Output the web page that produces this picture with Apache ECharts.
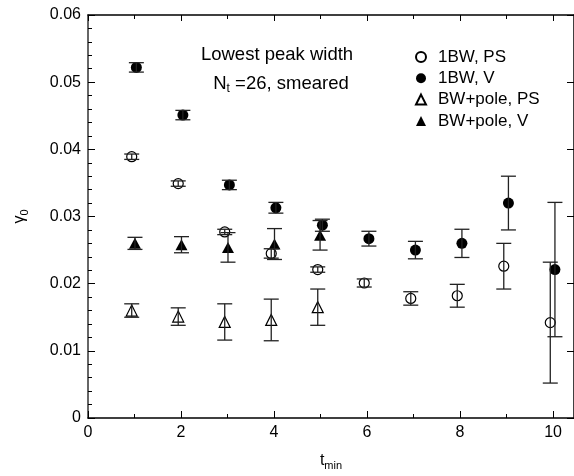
<!DOCTYPE html>
<html>
<head>
<meta charset="utf-8">
<script src="https://cdn.jsdelivr.net/npm/echarts@6/dist/echarts.min.js"></script>
<style>
html,body{margin:0;padding:0;background:#fff;}
#chart{width:574px;height:476px;}
</style>
</head>
<body>
<div id="chart"></div>
<script>
// ---- data ----
const seriesNames = ['1BW, PS', '1BW, V', 'BW+pole, PS', 'BW+pole, V'];

const tPS  = [0.94, 1.94, 2.94, 3.94, 4.94, 5.94, 6.94, 7.94, 8.94, 9.94];
const yPS  = [0.0389, 0.0349, 0.0277, 0.0245, 0.0221, 0.0201, 0.0178, 0.0182, 0.0226, 0.0142];
const ePS  = [0.0004, 0.0004, 0.0004, 0.0007, 0.0004, 0.0006, 0.0010, 0.0017, 0.0034, 0.0090];

const tV   = [1.04, 2.04, 3.04, 4.04, 5.04, 6.04, 7.04, 8.04, 9.04, 10.04];
const yV   = [0.0522, 0.0451, 0.0347, 0.0313, 0.0287, 0.0267, 0.0250, 0.0260, 0.0320, 0.0221];
const eV   = [0.0007, 0.0007, 0.0007, 0.0008, 0.0009, 0.0011, 0.0013, 0.0021, 0.0040, 0.0100];

const tPolePS = [0.94, 1.94, 2.94, 3.94, 4.94];
const yPolePS = [0.0160, 0.0151, 0.0143, 0.0146, 0.0165];
const ePolePS = [0.0010, 0.0013, 0.0027, 0.0031, 0.0027];

const tPoleV = [1.01, 2.01, 3.01, 4.01, 4.99];
const yPoleV = [0.0260, 0.0258, 0.0254, 0.0259, 0.0272];
const ePoleV = [0.0009, 0.0012, 0.0022, 0.0023, 0.0022];

const xTicks = [0, 2, 4, 6, 8, 10];
const yTicks = [0, 0.01, 0.02, 0.03, 0.04, 0.05, 0.06];

// ---- helpers ----
function pts(xs, ys) { return xs.map((x, i) => [x, ys[i]]); }
function errs(xs, ys, es) { return xs.map((x, i) => [x, ys[i] - es[i], ys[i] + es[i]]); }

const FONT = 'Liberation Sans';
const ERR_COLOR = '#222';
function renderErr(params, api) {
  const x = api.value(0), lo = api.value(1), hi = api.value(2);
  const a = api.coord([x, lo]), b = api.coord([x, hi]);
  const hw = 7.5;
  const st = { stroke: ERR_COLOR, lineWidth: 1.3 };
  return {
    type: 'group',
    children: [
      { type: 'line', shape: { x1: a[0], y1: a[1], x2: b[0], y2: b[1] }, style: st },
      { type: 'line', shape: { x1: a[0] - hw, y1: a[1], x2: a[0] + hw, y2: a[1] }, style: st },
      { type: 'line', shape: { x1: b[0] - hw, y1: b[1], x2: b[0] + hw, y2: b[1] }, style: st }
    ]
  };
}
function errSeries(name, data) {
  return {
    type: 'custom', name: name, renderItem: renderErr, data: data,
    encode: { x: 0, y: [1, 2] }, z: 5, silent: true, clip: false
  };
}

const sub = { fontSize: 11, fontFamily: FONT, color: '#000', verticalAlign: 'bottom', padding: [10, 0, 0, 0] };

const chart = echarts.init(document.getElementById('chart'), null, { renderer: 'canvas' });
const option = {
  backgroundColor: '#fff',
  animation: false,
  textStyle: { fontFamily: FONT },
  grid: { left: 88, right: -1, top: 15, bottom: 52 },
  title: [
    { text: 'Lowest peak width', left: 272, top: 40, textAlign: 'center',
      textStyle: { fontSize: 18.5, fontWeight: 'normal', color: '#000', fontFamily: FONT } },
    { text: 'N{s|t} =26, smeared', left: 276, top: 68, textAlign: 'center',
      textStyle: { fontSize: 18.5, fontWeight: 'normal', color: '#000', fontFamily: FONT,
        rich: { s: Object.assign({}, sub, { fontSize: 12 }) } } }
  ],
  legend: {
    orient: 'vertical', left: 410, top: 43.5,
    itemWidth: 10, itemHeight: 10, itemGap: 4.3,
    data: seriesNames,
    textStyle: { fontSize: 17, color: '#000', fontFamily: FONT, lineHeight: 17, padding: [0, 0, 0, 7] }
  },
  xAxis: [
    {
      type: 'value', min: 0, max: 10.45, interval: 2, position: 'bottom',
      name: 't{s|min}', nameLocation: 'middle', nameGap: 32,
      nameTextStyle: { fontSize: 16, color: '#000', fontFamily: FONT, rich: { s: sub } },
      axisLine: { show: true, onZero: false, lineStyle: { color: '#000', width: 1.5 } },
      axisTick: { show: true, inside: true, length: 7, lineStyle: { color: '#000' } },
      minorTick: { show: true, splitNumber: 2, length: 4, lineStyle: { color: '#000' } },
      axisLabel: { fontSize: 16, color: '#000', margin: 7, showMaxLabel: false,
        formatter: v => (xTicks.indexOf(v) >= 0 ? String(v) : '') },
      splitLine: { show: false }
    },
    {
      type: 'value', min: 0, max: 10.45, interval: 2, position: 'top',
      axisLine: { show: true, onZero: false, lineStyle: { color: '#000', width: 1.5 } },
      axisTick: { show: true, inside: true, length: 6, lineStyle: { color: '#000' } },
      minorTick: { show: true, splitNumber: 2, length: 4, lineStyle: { color: '#000' } },
      axisLabel: { show: false }, splitLine: { show: false }
    }
  ],
  yAxis: [
    {
      type: 'value', min: 0, max: 0.06, interval: 0.01, position: 'left',
      name: 'γ{s|0}', nameLocation: 'middle', nameGap: 58, nameRotate: 90,
      nameTextStyle: { fontSize: 16, color: '#000', fontFamily: FONT, rich: { s: sub } },
      axisLine: { show: true, onZero: false, lineStyle: { color: '#333', width: 1.5 } },
      axisTick: { show: true, inside: true, length: 7, lineStyle: { color: '#000' } },
      minorTick: { show: true, splitNumber: 5, length: 4, lineStyle: { color: '#000' } },
      axisLabel: { fontSize: 16, color: '#000', margin: 7,
        formatter: v => { const k = yTicks.findIndex(t => Math.abs(t - v) < 1e-9); return k < 0 ? '' : (v === 0 ? '0' : v.toFixed(2)); } },
      splitLine: { show: false }
    },
    {
      type: 'value', min: 0, max: 0.06, interval: 0.01, position: 'right',
      axisLine: { show: true, onZero: false, lineStyle: { color: '#000', width: 1.5 } },
      axisTick: { show: true, inside: true, length: 7, lineStyle: { color: '#000' } },
      axisLabel: { show: false }, splitLine: { show: false }
    }
  ],
  series: [
    { type: 'scatter', name: seriesNames[0], data: pts(tPS, yPS), symbol: 'circle', symbolSize: 10, z: 3,
      itemStyle: { color: 'rgba(255,255,255,0)', borderColor: '#000', borderWidth: 1.2, opacity: 1 } },
    { type: 'scatter', name: seriesNames[1], data: pts(tV, yV), symbol: 'circle', symbolSize: 11, z: 3,
      itemStyle: { color: '#000', opacity: 1 } },
    { type: 'scatter', name: seriesNames[2], data: pts(tPolePS, yPolePS), symbol: 'triangle', symbolSize: [11, 11], z: 3,
      itemStyle: { color: 'rgba(255,255,255,0)', borderColor: '#000', borderWidth: 1.2, opacity: 1 } },
    { type: 'scatter', name: seriesNames[3], data: pts(tPoleV, yPoleV), symbol: 'triangle', symbolSize: [12, 11], z: 3,
      itemStyle: { color: '#000', opacity: 1 } },
    errSeries('errPS', errs(tPS, yPS, ePS)),
    errSeries('errV', errs(tV, yV, eV)),
    errSeries('errPolePS', errs(tPolePS, yPolePS, ePolePS)),
    errSeries('errPoleV', errs(tPoleV, yPoleV, ePoleV))
  ]
};
chart.setOption(option);
</script>
</body>
</html>
